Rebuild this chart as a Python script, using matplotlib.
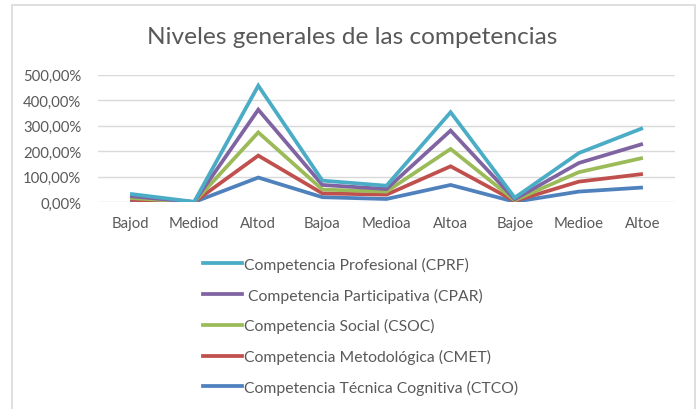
import numpy as np
import matplotlib
matplotlib.use("Agg")
import matplotlib.pyplot as plt
from matplotlib.patches import Rectangle
from matplotlib.lines import Line2D

categories = ["Bajod", "Mediod", "Altod", "Bajoa", "Medioa", "Altoa", "Bajoe", "Medioe", "Altoe"]
# individual series values (%), plotted stacked
ctco = [5, 1, 97, 20, 13, 68, 2, 42, 58]
cmet = [5, 0, 86, 15, 17, 73, 3, 39, 53]
csoc = [7, 0, 91, 15, 12, 68, 3, 37, 63]
cpar = [7, 0, 89, 18, 10, 72, 4, 36, 55]
cprf = [9, 1, 94, 17, 13, 72, 6, 39, 62]
series_names = [
    "Competencia Técnica Cognitiva (CTCO)",
    "Competencia Metodológica (CMET)",
    "Competencia Social (CSOC)",
    " Competencia Participativa (CPAR)",
    "Competencia Profesional (CPRF)",
]
yticks = [0, 100, 200, 300, 400, 500]
ytick_labels = ["0,00%", "100,00%", "200,00%", "300,00%", "400,00%", "500,00%"]

colors = ["#4F81BD", "#C0504D", "#9BBB59", "#8064A2", "#4BACC6"]
txt = "#595959"
font = ["Lato", "DejaVu Sans"]
plt.rcParams["font.family"] = font

W, H = 699, 410
fig = plt.figure(figsize=(W / 100, H / 100), dpi=100)

# chart border
fig.patches.append(Rectangle((12 / W, -0.01), (695 - 12) / W, (H - 6) / H + 0.01,
                             transform=fig.transFigure, fill=False,
                             edgecolor="#D9D9D9", linewidth=1.2))

ax = fig.add_axes([98 / W, 1 - 203.3 / H, (675 - 98) / W, (203.3 - 75.7) / H])
x = np.arange(len(categories))
stack = np.cumsum(np.array([ctco, cmet, csoc, cpar, cprf], dtype=float), axis=0)
for i in range(5):
    ax.plot(x, stack[i], color=colors[i], linewidth=2.7, solid_joinstyle="miter",
            solid_capstyle="butt", zorder=3 + i)

ax.set_xlim(-0.5, len(categories) - 0.5)
ax.set_ylim(0, 500)
ax.set_yticks(yticks)
ax.set_yticklabels(ytick_labels)
ax.set_xticks(x)
ax.set_xticklabels(categories)
ax.grid(axis="y", color="#D9D9D9", linewidth=1)
ax.set_axisbelow(True)
for s in ax.spines.values():
    s.set_visible(False)
ax.tick_params(axis="both", length=0, labelsize=10.7, labelcolor=txt)
ax.tick_params(axis="y", pad=12)
ax.tick_params(axis="x", pad=10)

fig.text(352 / W, 1 - 38 / H, "Niveles generales de las competencias", ha="center",
         va="center", fontsize=17.6, color=txt)

handles = [Line2D([0], [0], color=colors[i], linewidth=2.7) for i in range(4, -1, -1)]
labels = [series_names[i] for i in range(4, -1, -1)]
leg = fig.legend(handles, labels, loc="upper left", bbox_to_anchor=(195 / W, 1 - 250 / H),
                 frameon=False, fontsize=11.3, handlelength=2.5, handletextpad=0.1,
                 labelspacing=1.0, borderpad=0)
for t in leg.get_texts():
    t.set_color(txt)

fig.savefig("out.png", dpi=100)
